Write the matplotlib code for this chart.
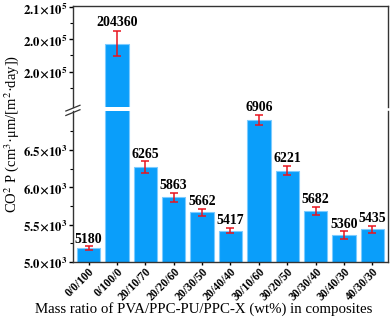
import numpy as np
import matplotlib.pyplot as plt
from matplotlib.ticker import FixedLocator, FuncFormatter

plt.rcParams['font.family'] = ['Liberation Serif', 'DejaVu Serif']
plt.rcParams['mathtext.fontset'] = 'stix'

# data
labels = ['0/0/100', '0/100/0', '20/10/70', '20/20/60', '20/30/50', '20/40/40',
          '30/10/60', '30/20/50', '30/30/40', '30/40/30', '40/30/30']
values = [5180, 204360, 6265, 5863, 5662, 5417, 6906, 6221, 5682, 5360, 5435]
errors = [27, 2000, 80, 62, 47, 33, 67, 60, 53, 47, 45]

bar_color = '#0A9EFA'
edge_color = '#7CCBFF'

fig = plt.figure(figsize=(3.92, 3.19), dpi=100)
ax_top = fig.add_axes([0.186, 0.665, 0.804, 0.316])
ax_bot = fig.add_axes([0.186, 0.179, 0.804, 0.473])

x = np.arange(len(labels))
for ax in (ax_top, ax_bot):
    ax.bar(x, values, width=0.82, color=bar_color, edgecolor=edge_color, linewidth=0.8, zorder=2)
    ax.errorbar(x, values, yerr=errors, fmt='none', ecolor='#E8141E', elinewidth=1.1,
                capsize=3, capthick=1.1, zorder=3)
    ax.set_xlim(-0.55, 10.55)
    for s in ax.spines.values():
        s.set_linewidth(1.0)
        s.set_color('#333333')

ax_bot.set_ylim(5000, 7020)
ax_top.set_ylim(194500, 210200)

# y ticks
ax_bot.yaxis.set_major_locator(FixedLocator([5000, 5500, 6000, 6500]))
ax_bot.yaxis.set_minor_locator(FixedLocator([5250, 5750, 6250, 6750]))
ax_bot.yaxis.set_major_formatter(FuncFormatter(lambda v, p: r'$\mathbf{%.1f\!\times\!10^{3}}$' % (v / 1e3)))
ax_top.yaxis.set_major_locator(FixedLocator([200000, 205000, 210000]))
ax_top.yaxis.set_minor_locator(FixedLocator([197500, 202500, 207500]))
ax_top.yaxis.set_major_formatter(FuncFormatter(lambda v, p: r'$\mathbf{%.1f\!\times\!10^{5}}$' % (v / 1e5)))

for ax in (ax_top, ax_bot):
    ax.tick_params(axis='y', which='major', length=3, width=1.0, labelsize=9.2, direction='out', pad=1)
    ax.tick_params(axis='y', which='minor', length=2, width=0.8, direction='out')

ax_top.spines['bottom'].set_visible(False)
ax_bot.spines['top'].set_visible(False)
ax_top.tick_params(axis='x', which='both', bottom=False, labelbottom=False)

ax_bot.set_xticks(x)
ax_bot.set_xticklabels(labels, rotation=45, ha='right', rotation_mode='anchor',
                       fontsize=8.3, fontweight='bold')
ax_bot.tick_params(axis='x', length=2, width=1.0, direction='out', pad=0.5)

# value labels
for i, v in enumerate(values):
    if v > 100000:
        ax_top.text(i, v + errors[i] + 300, str(v), ha='center', va='bottom',
                    fontsize=10, fontweight='bold')
    else:
        ax_bot.text(i, v + errors[i] + 12, str(v), ha='center', va='bottom',
                    fontsize=10, fontweight='bold')

# break marks on left spine
kw = dict(color='#333333', clip_on=False, linewidth=0.9)
fig.lines.append(plt.Line2D([0.186 - 0.018, 0.186 + 0.018], [0.652, 0.670], transform=fig.transFigure, **kw))
fig.lines.append(plt.Line2D([0.186 - 0.018, 0.186 + 0.018], [0.638, 0.656], transform=fig.transFigure, **kw))

fig.text(0.52, 0.03, 'Mass ratio of PVA/PPC-PU/PPC-X (wt%) in composites', ha='center', va='center',
         fontsize=10.7)
fig.text(0.03, 0.58, r'CO$^2$ P (cm$^3$·μm/[m$^2$·day])', rotation=90, ha='center', va='center',
         fontsize=10.5)

fig.savefig('out.png', dpi=100)
